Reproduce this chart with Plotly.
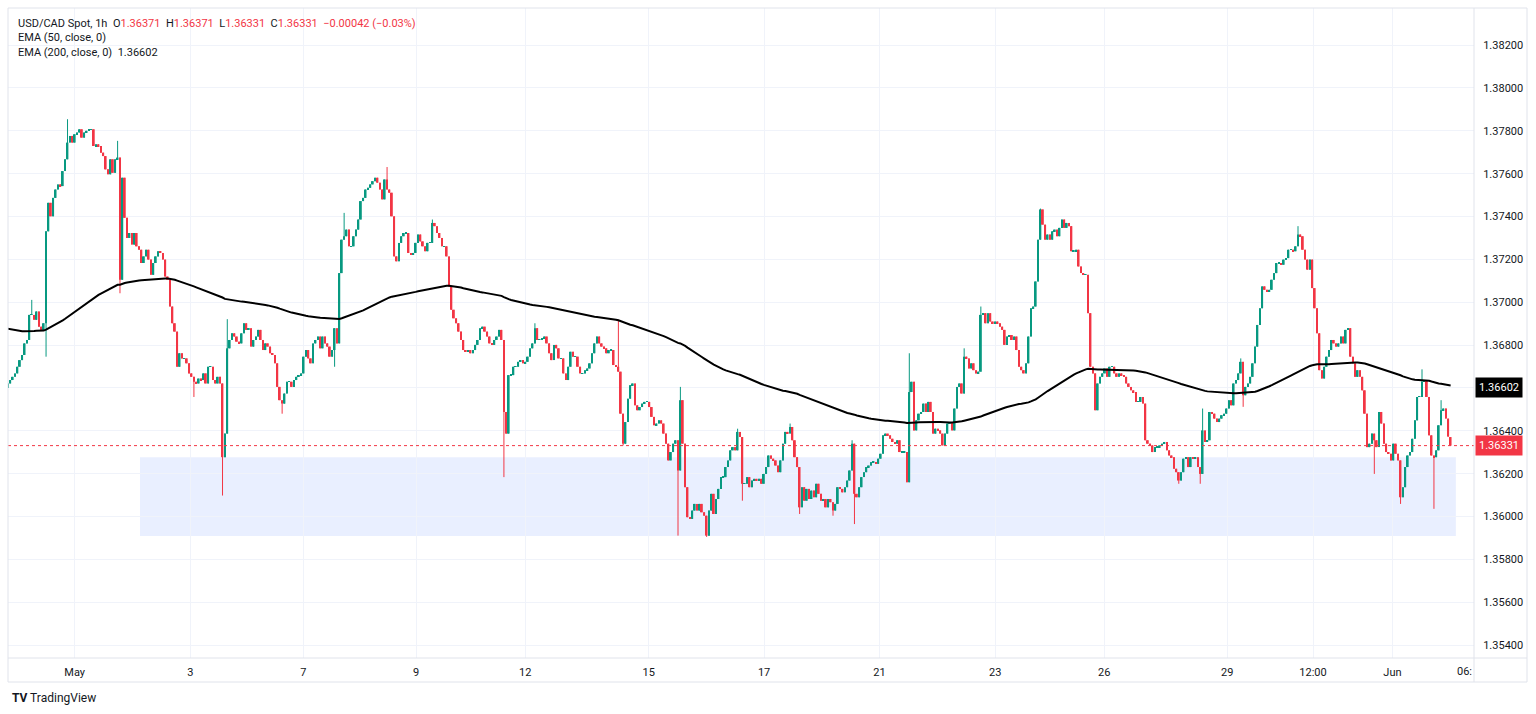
import plotly.graph_objects as go

# ---------------- data ----------------
symbol = "USD/CAD Spot, 1h"

# hourly closes, candle index 0..605
closes_0 = [
    1.36621, 1.36637, 1.36652, 1.36668, 1.36699, 1.36730, 1.36754, 1.36808, 1.36824, 1.36941,
    1.36941, 1.36918, 1.36957, 1.36886, 1.36871, 1.36902, 1.37331, 1.37464, 1.37401, 1.37487,
    1.37526, 1.37550, 1.37542, 1.37612, 1.37667, 1.37745, 1.37776, 1.37745, 1.37784, 1.37792,
    1.37807, 1.37768, 1.37792, 1.37800, 1.37807, 1.37807, 1.37729, 1.37737, 1.37729, 1.37698,
    1.37682, 1.37620, 1.37597, 1.37667, 1.37604, 1.37667, 1.37675, 1.37105, 1.37581, 1.37394,
    1.37300, 1.37323, 1.37269, 1.37323, 1.37261, 1.37245, 1.37183, 1.37214, 1.37245, 1.37199,
    1.37128, 1.37183, 1.37214, 1.37238, 1.37230, 1.37199, 1.37120, 1.37105, 1.36980, 1.36902,
    1.36863, 1.36699, 1.36762, 1.36738, 1.36738, 1.36715, 1.36668, 1.36652, 1.36629, 1.36621,
    1.36644, 1.36637, 1.36668, 1.36621, 1.36699, 1.36699, 1.36637, 1.36621, 1.36652, 1.36621,
    1.36277, 1.36387, 1.36785, 1.36824, 1.36855, 1.36840, 1.36816, 1.36808, 1.36855, 1.36902,
]
closes_1 = [
    1.36871, 1.36879, 1.36793, 1.36824, 1.36840, 1.36871, 1.36824, 1.36777, 1.36808, 1.36793,
    1.36762, 1.36754, 1.36715, 1.36605, 1.36543, 1.36527, 1.36574, 1.36629, 1.36629, 1.36605,
    1.36637, 1.36652, 1.36660, 1.36668, 1.36746, 1.36777, 1.36738, 1.36715, 1.36808, 1.36824,
    1.36840, 1.36785, 1.36840, 1.36808, 1.36793, 1.36746, 1.36777, 1.36879, 1.36808, 1.37136,
    1.37292, 1.37308, 1.37339, 1.37261, 1.37261, 1.37308, 1.37339, 1.37386, 1.37472, 1.37487,
    1.37526, 1.37534, 1.37550, 1.37565, 1.37581, 1.37558, 1.37526, 1.37480, 1.37573, 1.37526,
    1.37511, 1.37401, 1.37214, 1.37191, 1.37277, 1.37308, 1.37323, 1.37323, 1.37230, 1.37222,
    1.37230, 1.37277, 1.37316, 1.37284, 1.37261, 1.37238, 1.37277, 1.37277, 1.37370, 1.37355,
    1.37323, 1.37300, 1.37261, 1.37261, 1.37214, 1.37074, 1.36965, 1.36925, 1.36902, 1.36863,
    1.36824, 1.36777, 1.36769, 1.36777, 1.36762, 1.36777, 1.36801, 1.36824, 1.36879, 1.36886,
]
closes_2 = [
    1.36863, 1.36840, 1.36808, 1.36801, 1.36824, 1.36840, 1.36871, 1.36824, 1.36488, 1.36387,
    1.36660, 1.36660, 1.36699, 1.36699, 1.36722, 1.36730, 1.36715, 1.36722, 1.36746, 1.36785,
    1.36808, 1.36879, 1.36824, 1.36824, 1.36832, 1.36840, 1.36808, 1.36762, 1.36730, 1.36801,
    1.36785, 1.36738, 1.36738, 1.36668, 1.36637, 1.36699, 1.36769, 1.36746, 1.36746, 1.36699,
    1.36668, 1.36668, 1.36683, 1.36691, 1.36715, 1.36762, 1.36808, 1.36840, 1.36808, 1.36793,
    1.36785, 1.36762, 1.36777, 1.36777, 1.36707, 1.36699, 1.36676, 1.36480, 1.36340, 1.36441,
    1.36550, 1.36613, 1.36621, 1.36519, 1.36496, 1.36511, 1.36527, 1.36535, 1.36535, 1.36511,
    1.36465, 1.36426, 1.36434, 1.36449, 1.36434, 1.36387, 1.36340, 1.36262, 1.36301, 1.36340,
    1.36356, 1.36215, 1.36543, 1.36340, 1.36137, 1.35997, 1.35989, 1.36028, 1.36059, 1.36028,
    1.36059, 1.36020, 1.36004, 1.35911, 1.36028, 1.36106, 1.36012, 1.36082, 1.36129, 1.36184,
]
closes_3 = [
    1.36184, 1.36231, 1.36262, 1.36309, 1.36324, 1.36309, 1.36395, 1.36371, 1.36153, 1.36153,
    1.36184, 1.36137, 1.36168, 1.36176, 1.36168, 1.36176, 1.36153, 1.36199, 1.36231, 1.36285,
    1.36270, 1.36262, 1.36238, 1.36207, 1.36262, 1.36340, 1.36395, 1.36387, 1.36418, 1.36356,
    1.36277, 1.36231, 1.36043, 1.36137, 1.36074, 1.36129, 1.36082, 1.36121, 1.36090, 1.36153,
    1.36106, 1.36074, 1.36082, 1.36043, 1.36082, 1.36067, 1.36028, 1.36059, 1.36137, 1.36129,
    1.36113, 1.36137, 1.36168, 1.36215, 1.36340, 1.36106, 1.36090, 1.36137, 1.36184, 1.36207,
    1.36231, 1.36238, 1.36254, 1.36254, 1.36246, 1.36270, 1.36293, 1.36379, 1.36387, 1.36379,
    1.36363, 1.36348, 1.36340, 1.36356, 1.36301, 1.36301, 1.36301, 1.36160, 1.36581, 1.36629,
    1.36402, 1.36449, 1.36480, 1.36488, 1.36527, 1.36488, 1.36535, 1.36488, 1.36387, 1.36410,
    1.36402, 1.36387, 1.36332, 1.36387, 1.36434, 1.36441, 1.36402, 1.36504, 1.36605, 1.36621,
]
closes_4 = [
    1.36574, 1.36746, 1.36738, 1.36691, 1.36715, 1.36683, 1.36668, 1.36676, 1.36941, 1.36949,
    1.36902, 1.36949, 1.36910, 1.36902, 1.36910, 1.36902, 1.36886, 1.36871, 1.36801, 1.36840,
    1.36847, 1.36824, 1.36840, 1.36777, 1.36699, 1.36683, 1.36668, 1.36715, 1.36840, 1.36972,
    1.36980, 1.37097, 1.37292, 1.37433, 1.37362, 1.37292, 1.37316, 1.37292, 1.37331, 1.37339,
    1.37308, 1.37347, 1.37386, 1.37347, 1.37370, 1.37355, 1.37238, 1.37238, 1.37245, 1.37167,
    1.37136, 1.37128, 1.37128, 1.36949, 1.36699, 1.36668, 1.36496, 1.36621, 1.36652, 1.36668,
    1.36691, 1.36652, 1.36699, 1.36699, 1.36668, 1.36652, 1.36668, 1.36660, 1.36652, 1.36621,
    1.36605, 1.36589, 1.36581, 1.36535, 1.36535, 1.36558, 1.36527, 1.36356, 1.36340, 1.36332,
    1.36301, 1.36324, 1.36324, 1.36332, 1.36340, 1.36348, 1.36309, 1.36285, 1.36277, 1.36223,
    1.36207, 1.36168, 1.36207, 1.36270, 1.36277, 1.36231, 1.36277, 1.36270, 1.36277, 1.36231,
]
closes_5 = [
    1.36199, 1.36402, 1.36348, 1.36356, 1.36488, 1.36480, 1.36457, 1.36441, 1.36457, 1.36473,
    1.36480, 1.36504, 1.36543, 1.36519, 1.36621, 1.36637, 1.36668, 1.36722, 1.36566, 1.36605,
    1.36621, 1.36652, 1.36715, 1.36793, 1.36894, 1.36972, 1.37074, 1.37058, 1.37050, 1.37058,
    1.37105, 1.37136, 1.37183, 1.37183, 1.37175, 1.37199, 1.37206, 1.37245, 1.37245, 1.37238,
    1.37261, 1.37316, 1.37308, 1.37245, 1.37199, 1.37152, 1.37199, 1.37066, 1.36972, 1.36855,
    1.36683, 1.36644, 1.36699, 1.36746, 1.36777, 1.36824, 1.36808, 1.36793, 1.36808, 1.36840,
    1.36808, 1.36871, 1.36879, 1.36746, 1.36715, 1.36652, 1.36683, 1.36652, 1.36589, 1.36480,
    1.36324, 1.36340, 1.36387, 1.36356, 1.36324, 1.36488, 1.36434, 1.36340, 1.36301, 1.36293,
    1.36262, 1.36340, 1.36293, 1.36262, 1.36090, 1.36137, 1.36231, 1.36285, 1.36301, 1.36363,
    1.36449, 1.36558, 1.36558, 1.36629, 1.36637, 1.36558, 1.36379, 1.36285, 1.36277, 1.36309,
    1.36426, 1.36496, 1.36504, 1.36457, 1.36373, 1.36331,
]

first_open = 1.36600
last_open = 1.36371

# notable wick extremes (candle index -> price)
wick_highs = {10: 1.37011, 25: 1.37854, 46: 1.37753, 92: 1.36921, 141: 1.37417,
              159: 1.37631, 178: 1.37386, 221: 1.36902, 256: 1.36918, 282: 1.36605,
              306: 1.36410, 328: 1.36434, 354: 1.36356, 378: 1.36762, 401: 1.36785,
              408: 1.36980, 433: 1.37437, 501: 1.36504, 517: 1.36738, 541: 1.37355,
              593: 1.36687, 601: 1.36543}
wick_lows = {16: 1.36746, 47: 1.37042, 78: 1.36558, 90: 1.36098, 115: 1.36480,
             137: 1.36699, 208: 1.36184, 258: 1.36332, 281: 1.35911, 293: 1.35905,
             308: 1.36074, 332: 1.36012, 346: 1.36004, 355: 1.35965, 491: 1.36153,
             500: 1.36153, 518: 1.36512, 573: 1.36199, 584: 1.36059, 598: 1.36036}

ema_period = 200
ema_start = 1.36876          # EMA(200) value at the first visible candle
ema_label = 1.36602          # value shown in the legend / axis tag

# support zone
zone_start, zone_end = 55.4, 607.2
zone_low, zone_high = 1.35909, 1.36277

# axis ticks
time_tick_pos = [28.0, 76.5, 123.9, 171.2, 216.9, 268.7, 317.1, 365.5, 414.0,
                 459.7, 511.3, 547.3, 580.6]
time_tick_text = ["May", "3", "7", "9", "12", "15", "17", "21", "23", "26",
                  "29", "12:00", "Jun"]
edge_tick_pos, edge_tick_text = 611.0, "06:"
price_ticks = [1.354, 1.356, 1.358, 1.360, 1.362, 1.364, 1.366, 1.368,
               1.370, 1.372, 1.374, 1.376, 1.378, 1.380, 1.382]

# ---------------- build OHLC ----------------
closes = closes_0 + closes_1 + closes_2 + closes_3 + closes_4 + closes_5
n = len(closes)
idx = list(range(n))
opens = [first_open] + closes[:-1]
opens[-1] = last_open
highs = [max(o, c) for o, c in zip(opens, closes)]
lows = [min(o, c) for o, c in zip(opens, closes)]
for k, v in wick_highs.items():
    highs[k] = max(highs[k], v)
for k, v in wick_lows.items():
    lows[k] = min(lows[k], v)

alpha = 2.0 / (ema_period + 1)
ema = [ema_start]
for c in closes[1:]:
    ema.append(alpha * c + (1 - alpha) * ema[-1])

UP, DOWN = "#089981", "#f23645"
TXT = "#131722"
GRID = "#f0f3fa"
BORDER = "#e0e3eb"
FONT = "Roboto, 'Liberation Sans', sans-serif"
FS = 11

W, H = 1536, 714
L, R, T, B = 8, 1474, 8, 658          # plot area in pixels
PW, PH = R - L, B - T


def px_x(p):
    return (p - L) / PW


def px_y(p):
    return (B - p) / PH


fig = go.Figure()

# wicks
for colr, is_up in ((UP, True), (DOWN, False)):
    wx, wy = [], []
    for i in idx:
        if (closes[i] >= opens[i]) == is_up:
            wx += [i, i, None]
            wy += [lows[i], highs[i], None]
    fig.add_trace(go.Scatter(x=wx, y=wy, mode="lines",
                             line=dict(color=colr, width=1),
                             hoverinfo="skip", showlegend=False))

# bodies
body_base = [min(o, c) for o, c in zip(opens, closes)]
body_len = [max(abs(c - o), 0.000012) for o, c in zip(opens, closes)]
body_col = [UP if c >= o else DOWN for o, c in zip(opens, closes)]
fig.add_trace(go.Bar(x=idx, y=body_len, base=body_base, width=0.72,
                     marker=dict(color=body_col, line=dict(width=0)),
                     hoverinfo="skip", showlegend=False))

fig.add_trace(go.Scatter(
    x=idx, y=ema, mode="lines", line=dict(color="#000000", width=2),
    hoverinfo="skip", showlegend=False,
))

price_text = ["" if abs(v - 1.366) < 1e-9 else f"{v:.5f}" for v in price_ticks]

fig.update_layout(
    width=W, height=H, autosize=False,
    margin=dict(l=L, r=W - R, t=T, b=H - B, pad=0),
    paper_bgcolor="white", plot_bgcolor="white",
    font=dict(family=FONT, size=FS, color=TXT),
    showlegend=False, barmode="overlay",
    xaxis=dict(
        range=[0.04, 614.8],
        tickmode="array", tickvals=time_tick_pos, ticktext=time_tick_text,
        showgrid=True, gridcolor=GRID, gridwidth=1, zeroline=False,
        showline=False, ticks="outside", ticklen=4, tickcolor="white",
        tickfont=dict(size=FS, color=TXT),
    ),
    yaxis=dict(
        range=[1.35340, 1.38373], side="right",
        tickmode="array", tickvals=price_ticks, ticktext=price_text,
        showgrid=True, gridcolor=GRID, gridwidth=1, zeroline=False,
        showline=False, ticks="outside", ticklen=6, tickcolor="white",
        tickfont=dict(size=FS, color=TXT),
    ),
)

shapes = [
    # support zone
    dict(type="rect", xref="x", yref="y", x0=zone_start, x1=zone_end,
         y0=zone_low, y1=zone_high, fillcolor="rgba(41,98,255,0.10)",
         line=dict(width=0), layer="below"),
    # last price dotted line
    dict(type="line", xref="paper", yref="y", x0=0, x1=1,
         y0=closes[-1], y1=closes[-1], line=dict(color=DOWN, width=1, dash="dot")),
    # frame
    dict(type="rect", xref="paper", yref="paper", x0=px_x(8), x1=px_x(1527),
         y0=px_y(682), y1=px_y(8), line=dict(color=BORDER, width=1),
         fillcolor="rgba(0,0,0,0)"),
    dict(type="line", xref="paper", yref="paper", x0=1, x1=1,
         y0=px_y(682), y1=1, line=dict(color=BORDER, width=1)),
    dict(type="line", xref="paper", yref="paper", x0=0, x1=px_x(1527),
         y0=0, y1=0, line=dict(color=BORDER, width=1)),
]
fig.update_layout(shapes=shapes)

o, h, l, c = opens[-1], highs[-1], lows[-1], closes[-1]
chg = c - closes[-2]
pct = chg / closes[-2] * 100
col = DOWN if chg < 0 else UP


def signed(v, fmt):
    s = format(abs(v), fmt)
    return ("\u2212" if v < 0 else "+") + s


legend1 = (f"{symbol}&nbsp;&nbsp;O<span style='color:{col}'>{o:.5f}</span>"
           f"&nbsp;&nbsp;H<span style='color:{col}'>{h:.5f}</span>"
           f"&nbsp;&nbsp;L<span style='color:{col}'>{l:.5f}</span>"
           f"&nbsp;&nbsp;C<span style='color:{col}'>{c:.5f}</span>"
           f"&nbsp;&nbsp;<span style='color:{col}'>{signed(chg, '.5f')} ({signed(pct, '.2f')}%)</span>")

ann = [
    dict(text=legend1, x=px_x(16), y=px_y(23)),
    dict(text="EMA (50, close, 0)", x=px_x(16), y=px_y(38)),
    dict(text=f"EMA (200, close, 0)&nbsp;&nbsp;{ema_label:.5f}", x=px_x(16), y=px_y(52)),
]
annotations = []
for a in ann:
    annotations.append(dict(xref="paper", yref="paper", xanchor="left", yanchor="middle",
                            showarrow=False, font=dict(size=FS, color=TXT, family=FONT),
                            align="left", **a))

# axis tags
annotations.append(dict(xref="paper", yref="y", x=1.0, y=ema_label, xanchor="left",
                        yanchor="middle", showarrow=False, text=f"{ema_label:.5f}",
                        font=dict(size=FS, color="white", family=FONT),
                        bgcolor="#000000", borderpad=3, xshift=1))
annotations.append(dict(xref="paper", yref="y", x=1.0, y=c, xanchor="left",
                        yanchor="middle", showarrow=False, text=f"{c:.5f}",
                        font=dict(size=FS, color="white", family=FONT),
                        bgcolor=DOWN, borderpad=3, xshift=1))
# cut-off time label at right edge
annotations.append(dict(xref="x", yref="paper", x=edge_tick_pos, y=px_y(671),
                        xanchor="center", yanchor="middle", showarrow=False,
                        text=edge_tick_text, font=dict(size=FS, color=TXT, family=FONT)))
# logo
annotations.append(dict(xref="paper", yref="paper", x=px_x(10), y=px_y(698),
                        xanchor="left", yanchor="middle", showarrow=False,
                        text="<b>TV</b> TradingView",
                        font=dict(size=12, color=TXT, family=FONT)))
fig.update_layout(annotations=annotations)

fig.write_html("out.html", config={"displayModeBar": False},
               post_script="document.body.style.margin='0px';document.body.style.overflow='hidden';")
